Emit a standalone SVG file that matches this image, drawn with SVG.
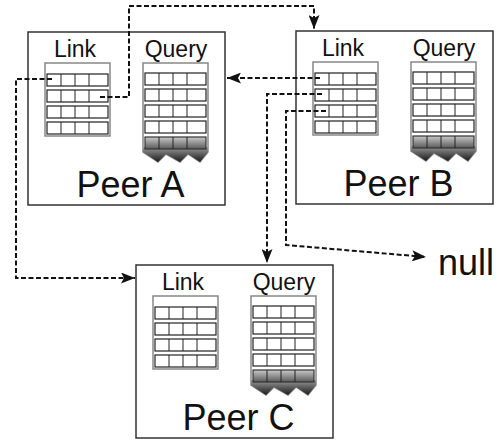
<svg xmlns="http://www.w3.org/2000/svg" width="497" height="441" viewBox="0 0 497 441">
  <defs>
    <style>
      .box { fill: #fff; stroke: #333; stroke-width: 1.5; }
      .frame { fill: #fff; stroke: #888; stroke-width: 1.5; }
      .row { fill: #fff; stroke: #222; stroke-width: 1.2; }
      .grow { fill: url(#grayRow); stroke: #333; stroke-width: 1.2; }
      .div { stroke: #222; stroke-width: 1; }
      .zig { fill: url(#zigGrad); stroke: none; }
      .lbl { font-family: "Liberation Sans", Arial, sans-serif; font-size: 23px; fill: #111; text-anchor: middle; }
      .peer { font-family: "Liberation Sans", Arial, sans-serif; font-size: 36px; fill: #111; text-anchor: middle; }
      .conn { fill: none; stroke: #111; stroke-width: 2; stroke-dasharray: 5 2.5; }
    </style>
    <linearGradient id="grayRow" x1="0" y1="0" x2="0" y2="1">
      <stop offset="0" stop-color="#c8c8c8"/>
      <stop offset="1" stop-color="#5a5a5a"/>
    </linearGradient>
    <linearGradient id="zigGrad" x1="0" y1="0" x2="0" y2="1">
      <stop offset="0" stop-color="#9a9a9a"/>
      <stop offset="1" stop-color="#1a1a1a"/>
    </linearGradient>
    <marker id="arrow" markerUnits="userSpaceOnUse" markerWidth="14" markerHeight="11" refX="14" refY="5.5" orient="auto">
      <path d="M0,0 L14,5.5 L0,11 L3,5.5 z" fill="#111"/>
    </marker>
    <g id="peerBody">
      <rect class="box" x="28" y="32" width="197" height="173"/>
      <text class="lbl" x="75" y="57">Link</text>
      <rect class="frame" x="45" y="63" width="65" height="73"/>
      <rect class="row" x="47" y="74" width="61" height="12"/>
      <rect class="row" x="47" y="90" width="61" height="12"/>
      <rect class="row" x="47" y="106" width="61" height="12"/>
      <rect class="row" x="47" y="122" width="61" height="12"/>
      <path class="div" d="M61,74 V86 M75,74 V86 M89,74 V86 M61,90 V102 M75,90 V102 M89,90 V102 M61,106 V118 M75,106 V118 M89,106 V118 M61,122 V134 M75,122 V134 M89,122 V134"/>
      <text class="lbl" x="176" y="57">Query</text>
      <path class="frame" d="M143,63 H208 V152 L200,162 L188,154 L180,162 L166,154 L158,162 L143,152 Z"/>
      <path class="zig" d="M143,147 H208 V152 L200,162 L188,154 L180,162 L166,154 L158,162 L143,152 Z"/>
      <rect class="row" x="145" y="73" width="61" height="12"/>
      <rect class="row" x="145" y="89" width="61" height="12"/>
      <rect class="row" x="145" y="105" width="61" height="12"/>
      <rect class="row" x="145" y="121" width="61" height="12"/>
      <rect class="grow" x="145" y="137" width="61" height="12"/>
      <path class="div" d="M159,73 V85 M173,73 V85 M187,73 V85 M159,89 V101 M173,89 V101 M187,89 V101 M159,105 V117 M173,105 V117 M187,105 V117 M159,121 V133 M173,121 V133 M187,121 V133 M159,137 V149 M173,137 V149 M187,137 V149"/>
    </g>
  </defs>

  <g id="peerA">
    <use href="#peerBody"/>
    <text class="peer" x="130.5" y="197">Peer A</text>
  </g>

  <g id="peerB" transform="translate(268,-1)">
    <use href="#peerBody"/>
    <text class="peer" x="130.5" y="197">Peer B</text>
  </g>

  <g id="peerC" transform="translate(108,233)">
    <use href="#peerBody"/>
    <text class="peer" x="130.5" y="197">Peer C</text>
  </g>

  <g id="null">
    <text class="peer" x="466" y="275">null</text>
  </g>

  <g id="connectors">
    <path class="conn" d="M100,97 H129 V6 H314 V29" marker-end="url(#arrow)"/>
    <path class="conn" d="M320,78 H227" marker-end="url(#arrow)"/>
    <path class="conn" d="M322,94 H267 V263" marker-end="url(#arrow)"/>
    <path class="conn" d="M326,111 H286 V245 L426,257" marker-end="url(#arrow)"/>
    <path class="conn" d="M52,79 H16 V278 H135" marker-end="url(#arrow)"/>
  </g>
</svg>
